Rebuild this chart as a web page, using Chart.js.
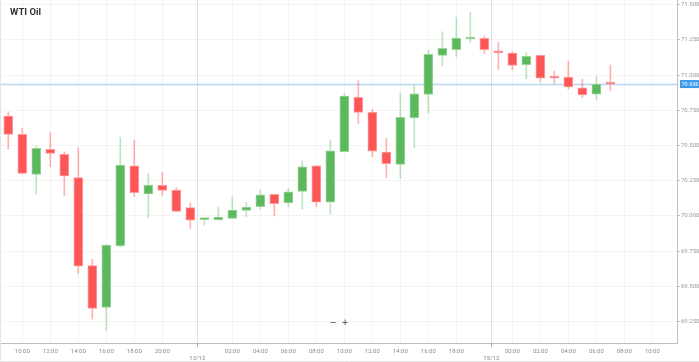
<!DOCTYPE html>
<html>
<head>
<meta charset="utf-8">
<title>WTI Oil</title>
<script src="https://cdn.jsdelivr.net/npm/chart.js@4.4.1/dist/chart.umd.min.js"></script>
<style>
  html, body { margin: 0; padding: 0; background: #fff; }
  #wrap { position: relative; width: 699px; height: 362px; }
</style>
</head>
<body>
<div id="wrap"><canvas id="wtiChart" width="699" height="362"></canvas></div>
<script>
// hourly candles (a few hours missing around the day breaks)
const hours = ['09:00','10:00','11:00','12:00','13:00','14:00','15:00','16:00','17:00','18:00',
  '19:00','20:00','21:00','22:00','00:00','01:00','02:00','03:00','04:00','05:00',
  '06:00','07:00','08:00','09:00','10:00','11:00','12:00','13:00','14:00','15:00',
  '16:00','17:00','18:00','19:00','20:00','23:00','00:00','01:00','02:00','03:00',
  '04:00','05:00','06:00','07:00'];

const openP  = [70.709,70.579,70.295,70.472,70.437,70.271,69.646,69.350,69.786,70.356,
  70.155,70.217,70.183,70.058,69.973,69.972,69.982,70.039,70.065,70.153,
  70.091,70.174,70.356,70.098,70.455,70.842,70.735,70.453,70.366,70.695,
  70.863,71.140,71.180,71.256,71.261,71.168,71.156,71.073,71.140,70.986,
  70.986,70.910,70.865,70.940];
const highP  = [70.739,70.621,70.498,70.590,70.455,70.484,69.691,69.795,70.558,70.538,
  70.302,70.309,70.200,70.093,69.985,70.063,70.134,70.096,70.183,70.155,
  70.195,70.391,70.360,70.538,70.870,70.960,70.756,70.550,70.870,70.924,
  71.178,71.308,71.410,71.445,71.277,71.234,71.166,71.158,71.142,71.028,
  71.099,70.972,70.988,71.071];
const lowP   = [70.472,70.297,70.155,70.349,70.143,69.592,69.267,69.184,69.780,70.136,
  69.987,70.146,70.030,69.911,69.933,69.970,69.980,69.994,70.046,69.999,
  70.063,70.046,70.065,70.013,70.452,70.652,70.420,70.271,70.266,70.484,
  70.728,71.066,71.130,71.229,71.151,71.040,71.038,70.974,70.952,70.941,
  70.901,70.839,70.827,70.888];
const closeP = [70.579,70.302,70.479,70.444,70.283,69.643,69.343,69.793,70.361,70.164,
  70.219,70.181,70.032,69.970,69.984,69.991,70.041,70.063,70.150,70.086,
  70.171,70.349,70.098,70.462,70.851,70.735,70.460,70.370,70.700,70.867,
  71.147,71.190,71.263,71.265,71.180,71.158,71.069,71.133,70.977,70.977,
  70.915,70.858,70.936,70.936];

const xTickIdx    = [1,3,5,7,9,11,16,18,20,22,24,26,28,30,32,36,38,40,42,44,46];
const xTickLabels = ['10:00','12:00','14:00','16:00','18:00','20:00','02:00','04:00','06:00','08:00','10:00',
  '12:00','14:00','16:00','18:00','00:00','02:00','04:00','06:00','08:00','10:00'];
const dateIdx    = [13.5, 34.5];
const dateLabels = ['13/12', '15/12'];

const yTicks = [69.25, 69.5, 69.75, 70.0, 70.25, 70.5, 70.75, 71.0, 71.25, 71.5];
const lastPrice = 70.936;

const UP = '#5cb85c', DOWN = '#fd5656';
const isUp = openP.map((o, i) => closeP[i] >= o);

const ctx = document.getElementById('wtiChart');

const pricePlugin = {
  id: 'priceLine',
  beforeDatasetsDraw(chart) {
    const c = chart.ctx, area = chart.chartArea;
    const y = Math.round(chart.scales.y.getPixelForValue(lastPrice)) + 0.5;
    c.save();
    c.strokeStyle = 'rgba(120,180,232,0.55)';
    c.lineWidth = 1.5;
    c.beginPath();
    c.moveTo(area.left, y);
    c.lineTo(area.right, y);
    c.stroke();
    c.restore();
  },
  afterDraw(chart) {
    const c = chart.ctx, area = chart.chartArea;
    const y = chart.scales.y.getPixelForValue(lastPrice);
    c.save();
    // current price label
    c.fillStyle = '#3a9aea';
    c.fillRect(area.right + 3, y - 4, 19, 8);
    c.fillStyle = '#fff';
    c.font = '5.5px Roboto';
    c.textBaseline = 'middle';
    c.textAlign = 'left';
    c.fillText(lastPrice.toFixed(3), area.right + 4.5, y + 0.5);
    // title
    c.fillStyle = '#333';
    c.font = 'bold 9.5px Roboto';
    c.textBaseline = 'alphabetic';
    c.fillText('WTI Oil', 10, 15);
    // zoom buttons
    c.fillStyle = '#666';
    c.font = 'bold 8px "DejaVu Sans"';
    c.textAlign = 'center';
    c.textBaseline = 'middle';
    c.fillText('\u2212', 333, 323);
    c.fillText('+', 345, 323);
    // frame lines
    c.strokeStyle = '#e4e4e4';
    c.lineWidth = 1;
    c.beginPath();
    c.moveTo(0, 361.5); c.lineTo(699, 361.5);
    c.moveTo(0.5, 0); c.lineTo(0.5, 362);
    c.stroke();
    c.restore();
  }
};

new Chart(ctx, {
  type: 'bar',
  data: {
    datasets: [
      {
        label: 'wick',
        data: highP.map((h, i) => ({ x: i, y: [lowP[i], h] })),
        backgroundColor: isUp.map(u => u ? 'rgba(92,184,92,0.4)' : 'rgba(253,86,86,0.45)'),
        borderWidth: 0,
        barThickness: 1,
        grouped: false,
        order: 2
      },
      {
        label: 'body',
        data: openP.map((o, i) => ({ x: i, y: [o, closeP[i]] })),
        backgroundColor: isUp.map(u => u ? UP : DOWN),
        borderColor: isUp.map(u => u ? '#9ad49a' : '#fe9a9a'),
        borderWidth: 1,
        borderSkipped: false,
        barThickness: 9,
        minBarLength: 2,
        grouped: false,
        order: 1
      }
    ]
  },
  options: {
    responsive: false,
    animation: false,
    devicePixelRatio: 1,
    layout: { padding: 0 },
    plugins: {
      legend: { display: false },
      tooltip: { enabled: false }
    },
    scales: {
      x: {
        type: 'linear',
        min: -0.593,
        max: 47.76,
        offset: false,
        afterBuildTicks: (scale) => {
          scale.ticks = xTickIdx.concat(dateIdx).sort((a, b) => a - b).map(v => ({ value: v }));
        },
        afterFit: (scale) => {
          scale.height = 19;
          scale.paddingLeft = 0;
          scale.paddingRight = 0;
        },
        ticks: {
          autoSkip: false,
          maxRotation: 0,
          padding: 1,
          color: '#8a8a8a',
          font: { family: 'Roboto', size: 6 },
          callback: (v) => {
            const d = dateIdx.indexOf(v);
            if (d >= 0) return ['', dateLabels[d]];
            const k = xTickIdx.indexOf(v);
            return k >= 0 ? xTickLabels[k] : '';
          }
        },
        grid: {
          offset: false,
          color: (c) => (c.tick && dateIdx.includes(c.tick.value)) ? 'rgba(0,0,0,0.12)' : 'rgba(0,0,0,0.045)',
          tickColor: (c) => (c.tick && dateIdx.includes(c.tick.value)) ? '#b0b0b0' : 'rgba(0,0,0,0)',
          tickLength: 4
        },
        border: { display: true, color: '#bdbdbd' }
      },
      y: {
        type: 'linear',
        position: 'right',
        min: 69.097,
        max: 71.533,
        afterBuildTicks: (scale) => {
          scale.ticks = yTicks.map(v => ({ value: v }));
        },
        afterFit: (scale) => {
          scale.width = 22;
          scale.paddingTop = 0;
          scale.paddingBottom = 0;
        },
        ticks: {
          padding: 1,
          color: '#9a9a9a',
          font: { family: 'Roboto', size: 6 },
          callback: (v) => Number(v).toFixed(3)
        },
        grid: {
          color: 'rgba(0,0,0,0.045)',
          tickColor: '#c0c0c0',
          tickLength: 3
        },
        border: { display: true, color: '#bdbdbd' }
      }
    }
  },
  plugins: [pricePlugin]
});
</script>
</body>
</html>
